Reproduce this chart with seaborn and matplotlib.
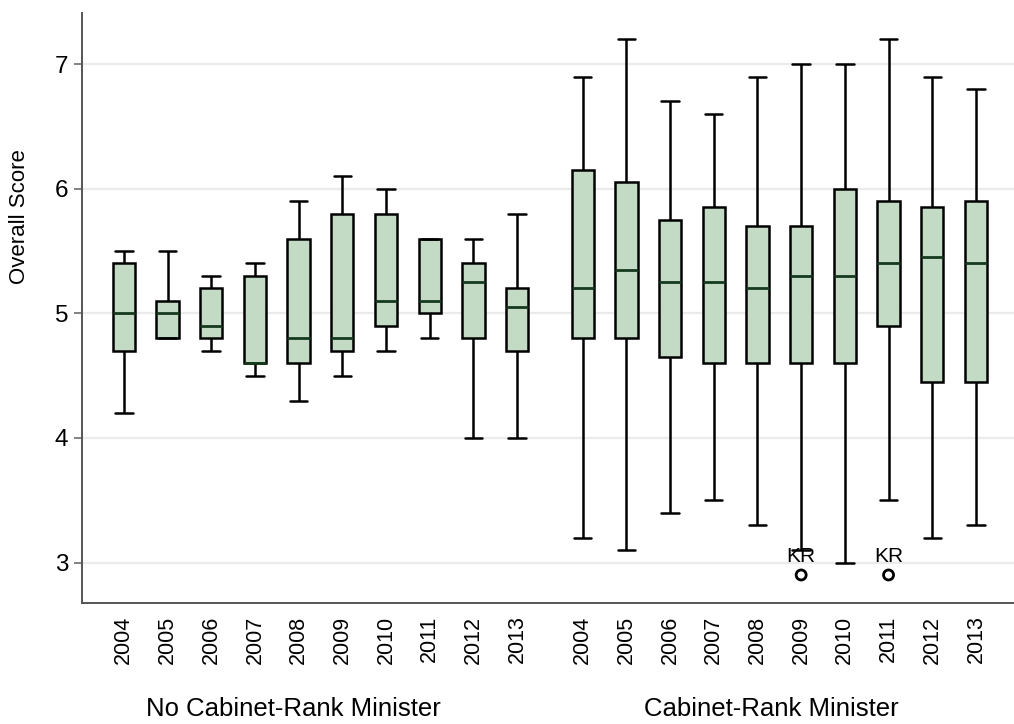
import numpy as np
import pandas as pd
import matplotlib
matplotlib.use("Agg")
import matplotlib.pyplot as plt
import seaborn as sns

# Years shown within each group
years = ["2004", "2005", "2006", "2007", "2008", "2009", "2010", "2011", "2012", "2013"]
groups = ["No Cabinet-Rank Minister", "Cabinet-Rank Minister"]

# Five-number summaries per year: lower whisker, Q1, median, Q3, upper whisker
no_cab_low = [4.2, 4.8, 4.7, 4.5, 4.3, 4.5, 4.7, 4.8, 4.0, 4.0]
no_cab_q1 = [4.7, 4.8, 4.8, 4.6, 4.6, 4.7, 4.9, 5.0, 4.8, 4.7]
no_cab_med = [5.0, 5.0, 4.9, 4.6, 4.8, 4.8, 5.1, 5.1, 5.25, 5.05]
no_cab_q3 = [5.4, 5.1, 5.2, 5.3, 5.6, 5.8, 5.8, 5.6, 5.4, 5.2]
no_cab_high = [5.5, 5.5, 5.3, 5.4, 5.9, 6.1, 6.0, 5.6, 5.6, 5.8]

cab_low = [3.2, 3.1, 3.4, 3.5, 3.3, 3.1, 3.0, 3.5, 3.2, 3.3]
cab_q1 = [4.8, 4.8, 4.65, 4.6, 4.6, 4.6, 4.6, 4.9, 4.45, 4.45]
cab_med = [5.2, 5.35, 5.25, 5.25, 5.2, 5.3, 5.3, 5.4, 5.45, 5.4]
cab_q3 = [6.15, 6.05, 5.75, 5.85, 5.7, 5.7, 6.0, 5.9, 5.85, 5.9]
cab_high = [6.9, 7.2, 6.7, 6.6, 6.9, 7.0, 7.0, 7.2, 6.9, 6.8]

# Outside values (Cabinet-Rank group), labelled by country
outlier_year = ["2009", "2011"]
outlier_score = [2.9, 2.9]
outlier_label = ["KR", "KR"]

y_ticks = [3, 4, 5, 6, 7]

# Slot positions along x: ten boxes per group with a wider gap between groups
group_gap = 1.5
pos_no_cab = np.arange(len(years), dtype=float)
pos_cab = pos_no_cab[-1] + group_gap + np.arange(len(years), dtype=float)

rows = []
for pos_arr, stats in [
    (pos_no_cab, (no_cab_low, no_cab_q1, no_cab_med, no_cab_q3, no_cab_high)),
    (pos_cab, (cab_low, cab_q1, cab_med, cab_q3, cab_high)),
]:
    for i, p in enumerate(pos_arr):
        for s in stats:
            rows.append({"pos": p, "score": s[i]})
df = pd.DataFrame(rows)

sns.set_style("white")
plt.rcParams["font.family"] = ["Liberation Sans", "DejaVu Sans"]
plt.rcParams["text.color"] = "black"
plt.rcParams["axes.labelcolor"] = "black"
plt.rcParams["xtick.labelcolor"] = "black"
plt.rcParams["ytick.labelcolor"] = "black"

fig = plt.figure(figsize=(10.14, 7.24), dpi=100)
ax = fig.add_axes([82 / 1014, 1 - 603 / 724, 1 - 82 / 1014, (603 - 13) / 724])

fill_color = "#c3dbc4"
median_color = "#163a1d"

sns.boxplot(
    data=df, x="pos", y="score", native_scale=True,
    width=0.51, whis=(0, 100), showfliers=False,
    color=fill_color, saturation=1, linecolor="black", linewidth=1.8,
    capwidths=0.4,
    medianprops=dict(color=median_color, linewidth=2.0),
    ax=ax,
)

# Outside values with their labels
year_index = {y: i for i, y in enumerate(years)}
out_x = [pos_cab[year_index[y]] for y in outlier_year]
ax.scatter(out_x, outlier_score, s=52, facecolors="none", edgecolors="black",
           linewidths=2.0, zorder=5)
for x, y, lab in zip(out_x, outlier_score, outlier_label):
    ax.annotate(lab, (x, y), xytext=(0, 13), textcoords="offset points",
                ha="center", va="center", fontsize=15, color="black")

# Axes styling
ax.set_xlim(pos_no_cab[0] - 0.957, pos_no_cab[0] + (1014 - 123.8) / 43.7)
ax.set_ylim(2.675, 7.41)
ax.set_yticks(y_ticks)
ax.set_yticklabels([str(t) for t in y_ticks])
ax.yaxis.grid(True, color="#ebebeb", linewidth=1.6)
ax.xaxis.grid(False)
ax.set_axisbelow(True)

all_pos = np.concatenate([pos_no_cab, pos_cab])
ax.set_xticks(all_pos)
ax.set_xticklabels(years + years, rotation=90, fontsize=15.5)
ax.tick_params(axis="x", length=0, pad=9)
ax.tick_params(axis="y", length=6, width=1.2, color="#6e6e6e", labelsize=17.5, pad=4,
               left=True)

for side in ["top", "right"]:
    ax.spines[side].set_visible(False)
for side in ["left", "bottom"]:
    ax.spines[side].set_color("#555555")
    ax.spines[side].set_linewidth(1.4)

ax.set_xlabel("")
ax.set_ylabel("Overall Score", fontsize=16)
ax.yaxis.set_label_coords(-0.056, 0.655)

# Group captions under the year labels
label_tf = ax.get_xaxis_transform()
ax.text(3.87, -0.1915, groups[0], transform=label_tf, ha="center", va="baseline",
        fontsize=18.5)
ax.text(14.81, -0.1915, groups[1], transform=label_tf, ha="center", va="baseline",
        fontsize=18.5)

fig.savefig("out.png", dpi=100)
